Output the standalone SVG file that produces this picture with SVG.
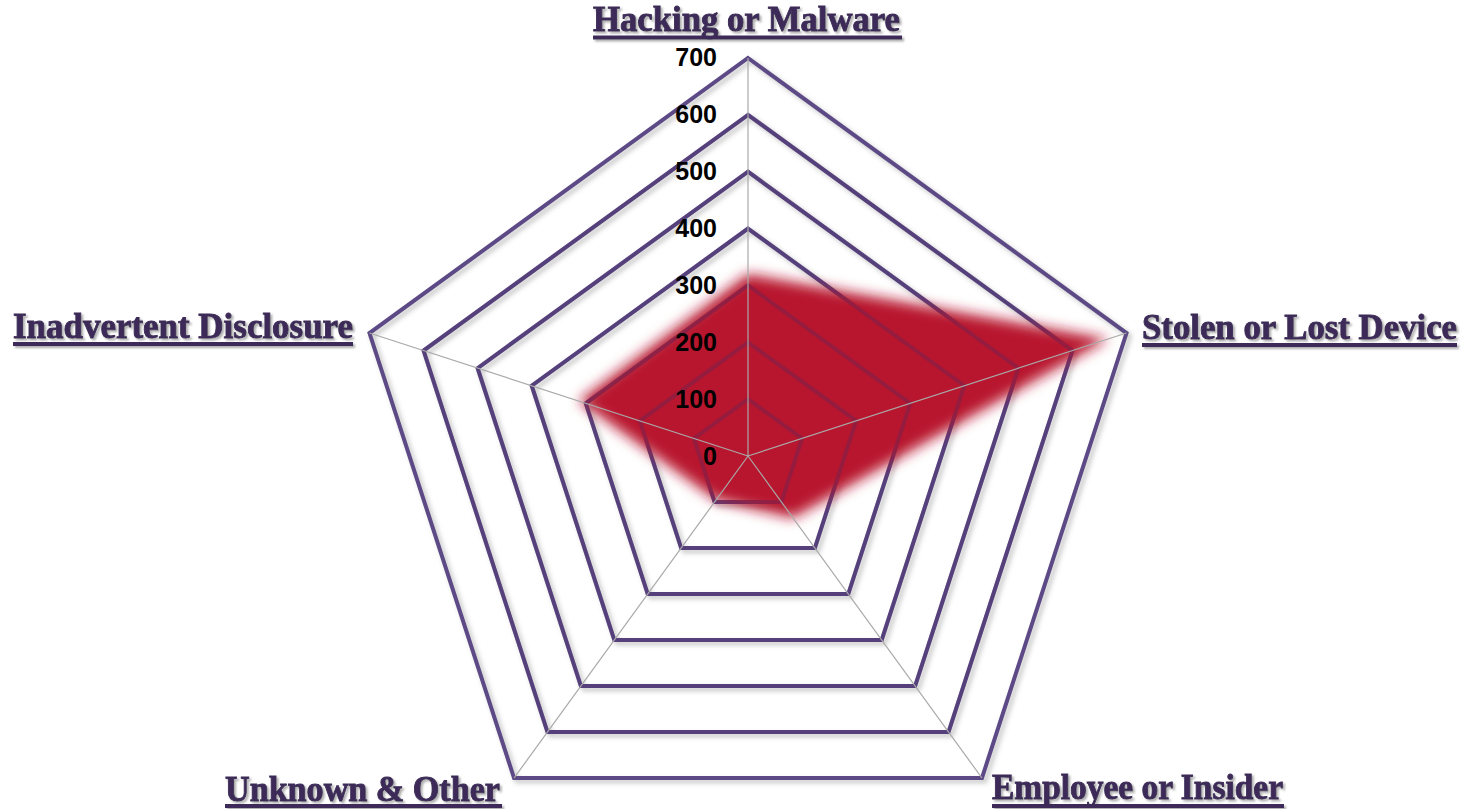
<svg xmlns="http://www.w3.org/2000/svg" width="1464" height="809" viewBox="0 0 1464 809">
<defs>
<filter id="ringShadow" x="-10%" y="-10%" width="120%" height="120%">
<feDropShadow dx="3" dy="3" stdDeviation="2.5" flood-color="#777" flood-opacity="0.45"/>
</filter>
<filter id="soft" x="-20%" y="-20%" width="140%" height="140%">
<feGaussianBlur stdDeviation="6.5"/>
</filter>
<filter id="txtShadow" x="-5%" y="-30%" width="110%" height="160%">
<feDropShadow dx="2" dy="2" stdDeviation="1" flood-color="#8a8a8a" flood-opacity="0.7"/>
</filter>
</defs>
<style>
.ring{fill:none;stroke:#5b4a86;stroke-width:4;stroke-linejoin:miter}
.ringOver{fill:none;stroke:#4a2a66;stroke-width:4;opacity:0.3}
.axis{stroke:#a9a9a9;stroke-width:1.2}
.tick{font-family:"Liberation Sans",Arial,sans-serif;font-weight:bold;font-size:25px;fill:#000;text-anchor:end}
.cat{font-family:"Liberation Serif","Times New Roman",serif;font-weight:bold;font-size:35px;fill:#3c2b58;stroke:#3c2b58;stroke-width:0.9}
.ul{stroke:#3c2b58;stroke-width:4}
</style>
<rect width="1464" height="809" fill="#fff"/>

<g id="rings" filter="url(#ringShadow)">
<polygon class="ring" points="748,399.14 802.07,438.43 781.42,502 714.58,502 693.93,438.43"/>
<polygon class="ring" points="748,342.29 856.15,420.86 814.84,548 681.16,548 639.85,420.86"/>
<polygon class="ring" points="748,285.43 910.22,403.29 848.26,594 647.74,594 585.78,403.29"/>
<polygon class="ring" points="748,228.57 964.3,385.72 881.68,640 614.32,640 531.7,385.72"/>
<polygon class="ring" points="748,171.71 1018.37,368.15 915.1,686 580.9,686 477.63,368.15"/>
<polygon class="ring" points="748,114.86 1072.44,350.58 948.52,732 547.48,732 423.56,350.58"/>
<polygon class="ring" points="748,58 1126.52,333.01 981.94,778 514.06,778 369.48,333.01"/>
</g>

<g id="series-data">
<polygon fill="#b8162e" filter="url(#soft)" points="748,274 1108,339 793,518 716,500 579,401"/>
</g>

<g id="rings-through">
<polygon class="ringOver" points="748,399.14 802.07,438.43 781.42,502 714.58,502 693.93,438.43"/>
<polygon class="ringOver" points="748,342.29 856.15,420.86 814.84,548 681.16,548 639.85,420.86"/>
<polygon class="ringOver" points="748,285.43 910.22,403.29 848.26,594 647.74,594 585.78,403.29"/>
<polygon class="ringOver" points="748,228.57 964.3,385.72 881.68,640 614.32,640 531.7,385.72"/>
<polygon class="ringOver" points="748,171.71 1018.37,368.15 915.1,686 580.9,686 477.63,368.15"/>
<polygon class="ringOver" points="748,114.86 1072.44,350.58 948.52,732 547.48,732 423.56,350.58"/>
</g>

<g id="connectors">
<line class="axis" x1="748" y1="456" x2="748" y2="58"/>
<line class="axis" x1="748" y1="456" x2="1126.52" y2="333.01"/>
<line class="axis" x1="748" y1="456" x2="981.94" y2="778"/>
<line class="axis" x1="748" y1="456" x2="514.06" y2="778"/>
<line class="axis" x1="748" y1="456" x2="369.48" y2="333.01"/>
</g>

<g id="scale">
<text class="tick" x="717" y="465">0</text>
<text class="tick" x="717" y="408">100</text>
<text class="tick" x="717" y="351">200</text>
<text class="tick" x="717" y="294">300</text>
<text class="tick" x="717" y="237">400</text>
<text class="tick" x="717" y="180">500</text>
<text class="tick" x="717" y="123">600</text>
<text class="tick" x="717" y="66">700</text>
</g>

<g id="label-hacking" filter="url(#txtShadow)">
<text class="cat" x="593" y="31" textLength="307" lengthAdjust="spacingAndGlyphs">Hacking or Malware</text>
<line class="ul" x1="593" y1="37.5" x2="902" y2="37.5"/>
</g>
<g id="label-stolen" filter="url(#txtShadow)">
<text class="cat" x="1142" y="339" textLength="315" lengthAdjust="spacingAndGlyphs">Stolen or Lost Device</text>
<line class="ul" x1="1142" y1="345" x2="1457" y2="345"/>
</g>
<g id="label-inadvertent" filter="url(#txtShadow)">
<text class="cat" x="13" y="338" textLength="340" lengthAdjust="spacingAndGlyphs">Inadvertent Disclosure</text>
<line class="ul" x1="13" y1="344" x2="353" y2="344"/>
</g>
<g id="label-unknown" filter="url(#txtShadow)">
<text class="cat" x="225" y="801" textLength="275" lengthAdjust="spacingAndGlyphs">Unknown &amp; Other</text>
<line class="ul" x1="225" y1="806" x2="502" y2="806"/>
</g>
<g id="label-employee" filter="url(#txtShadow)">
<text class="cat" x="992" y="799" textLength="291" lengthAdjust="spacingAndGlyphs">Employee or Insider</text>
<line class="ul" x1="992" y1="806" x2="1284" y2="806"/>
</g>
</svg>
